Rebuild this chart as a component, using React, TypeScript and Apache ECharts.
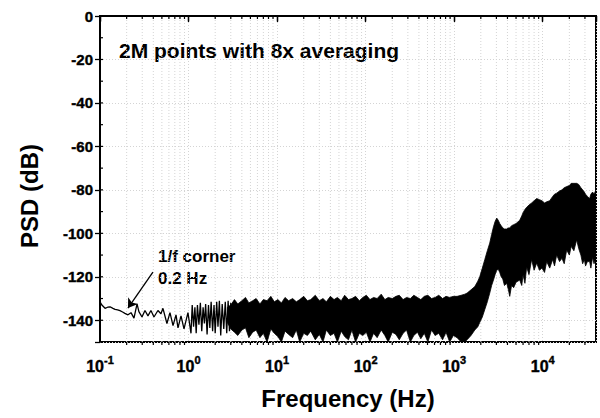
import React, { useEffect, useRef } from 'react';
import * as echarts from 'echarts';

// Low-frequency part of the spectrum (single trace), Hz / dB
const lowFreqHz = [0.1, 0.105, 0.114, 0.122, 0.13, 0.14, 0.148, 0.158, 0.168, 0.18, 0.191, 0.207, 0.224, 0.242, 0.262, 0.275, 0.298, 0.322, 0.348, 0.376, 0.407, 0.451, 0.488, 0.514, 0.57, 0.617, 0.668, 0.722, 0.76, 0.822, 0.889, 0.985, 1.066,
  1.1, 1.14, 1.18, 1.22, 1.26, 1.31, 1.36, 1.41, 1.46, 1.51, 1.56, 1.62, 1.68, 1.74, 1.8, 1.87, 1.94, 2.0, 2.08, 2.15, 2.23, 2.31, 2.4, 2.5, 2.6, 2.7, 2.8, 2.9, 3.0];
const lowFreqDb = [-131.5, -133, -134.5, -134, -133.8, -134.5, -135, -135.2, -135.6, -136.2, -136.8, -137.5, -136.5, -139, -132.5, -136, -138.5, -135.5, -138, -135.5, -138.5, -135.5, -137, -134.5, -141.5, -136.5, -142.5, -137.5, -143.5, -138, -144, -136.5, -146,
  -133, -143, -134, -146, -133, -142, -132, -145, -134, -141.5, -132.5, -146.5, -133, -143.5, -131.5, -145, -133, -146, -131.5, -143, -131, -147, -132.5, -144, -131.5, -146, -131, -145, -132];

// Dense noisy band: frequency with upper / lower envelope (dB)
const bandHz = [
  2.75, 3.0, 3.3, 3.6, 4.0, 4.4, 4.8, 5.3, 5.8,
  6.4, 7.0, 7.7, 8.5, 9.3, 10.2, 11.2, 12.3, 13.5, 15,
  16.5, 18, 20, 22, 24, 27, 30, 33, 36, 40,
  44, 48, 53, 58, 64, 70, 77, 85, 93, 102,
  112, 123, 135, 150, 165, 180, 200, 220, 240, 265,
  290, 320, 350, 385, 420, 460, 505, 555, 610, 670,
  740, 810, 890, 980, 1080, 1200, 1320, 1400, 1550, 1710,
  1850, 1945, 2080, 2220, 2370, 2523, 2650, 2780, 2900, 3027,
  3150, 3273, 3400, 3540, 3700, 3927, 4100, 4245, 4450, 4700,
  5000, 5500, 5800, 6000, 6300, 6590, 7000, 7500, 8000, 8550,
  9200, 9800, 10500, 11090, 12000, 12970, 13600, 14380, 15500, 16500,
  17500, 18660, 20000, 21000, 22500, 24200, 25500, 27000, 28270, 29500,
  30500, 32000, 33900, 35000, 36640, 38000, 40000,
];
const bandHiDb = [
  -134, -133, -130.5, -132.5, -131, -129.5, -132, -131, -130,
  -132.5, -130.5, -131, -129, -131.5, -130.5, -132, -129.5, -131, -130,
  -131.5, -130.5, -129, -131, -130.5, -128.5, -131, -130, -131.5, -129,
  -130.5, -129.5, -131, -128.5, -130.5, -130, -129, -131, -129.5, -128.5,
  -130.5, -129.5, -130, -128, -130.5, -129.5, -130, -129, -128.5, -130.5,
  -129.5, -130, -128.5, -129.5, -130.5, -129, -128.5, -130, -129.5, -128.5,
  -130, -129, -129.5, -129, -129, -128.5, -128, -127.5, -126, -124.5,
  -122, -120, -116, -112, -108, -104.5, -100.5, -97, -94.5, -93,
  -94, -95.5, -96.5, -97.5, -98, -98, -97.5, -97.5, -96.5, -96,
  -95.5, -94, -92, -90.5, -89, -88, -87, -86, -85, -84,
  -84.5, -85, -86, -85.5, -85, -83, -82, -81.5, -80.5, -80,
  -79, -78.5, -78, -77, -77, -77, -77.5, -79, -80, -81,
  -82, -83, -84, -82, -81, -82, -80,
];
const bandLoDb = [
  -141, -144, -145.5, -147, -144.5, -143.5, -148, -145.5, -144.5,
  -148, -146, -150, -144, -146, -147.5, -150, -145, -146.5, -148,
  -144.5, -150, -146, -147, -145, -149, -146.5, -150, -144.5, -147,
  -146, -150, -145, -147.5, -149, -144.5, -150, -146, -147, -145.5,
  -150, -146, -148, -144.5, -147, -150, -145.5, -146.5, -149, -146,
  -144.5, -150, -147, -145.5, -148.5, -146, -150, -144.5, -147, -146,
  -149, -145.5, -150, -147, -148, -150, -150, -149, -147, -144.5,
  -143, -141, -138.5, -135, -131.5, -127.5, -124, -121.5, -119, -117,
  -116.5, -118, -120, -121, -124, -123, -126, -129, -124, -125,
  -122.5, -121.5, -124, -119, -123, -115.5, -119, -112, -117, -113.7,
  -117, -116, -118, -113, -116, -112, -115, -110, -113, -111.5,
  -114, -107.7, -110, -106, -108, -103, -107, -110, -114, -112,
  -115, -113, -113, -116, -111, -114, -111,
];

// Tick labels
const xTickExponents = [-1, 0, 1, 2, 3, 4];
const yTickLabels = [-140, -120, -100, -80, -60, -40, -20, 0];

// Axis decorations
const xMinorHz = [0.2, 0.3, 0.4, 0.5, 0.6, 0.7, 0.8, 0.9, 2, 3, 4, 5, 6, 7, 8, 9, 20, 30, 40, 50, 60, 70, 80, 90, 200, 300, 400, 500, 600, 700, 800, 900, 2000, 3000, 4000, 5000, 6000, 7000, 8000, 9000, 20000, 30000];
const yInnerTicks = [-140, -130, -120, -110, -100, -90, -80, -70, -60, -50, -40, -30, -20, -10];

// Annotation arrow (Hz, dB)
const arrowFrom = [0.396, -117.8];
const arrowTo = [0.207, -134.4];

const FONT = 'Liberation Sans, Arial, Helvetica, sans-serif';

function txt(text: string, x: number, y: number, size: number, align: string, vAlign: string) {
  return {
    type: 'text', x, y,
    style: {
      text, fill: '#000', fontSize: size, fontWeight: 'bold', fontFamily: FONT,
      textAlign: align, textVerticalAlign: vAlign, align, verticalAlign: vAlign,
      stroke: '#000', lineWidth: 0.4,
    },
  };
}

export default function App() {
  const ref = useRef<HTMLDivElement>(null);
  useEffect(() => {
    document.body.style.margin = '0';
    const chart = echarts.init(ref.current as HTMLDivElement, null, { renderer: 'svg', width: 600, height: 418 });
    const ctx = document.createElement('canvas').getContext('2d') as CanvasRenderingContext2D;
    const measure = (t: string, size: number) => { ctx.font = `bold ${size}px ${FONT}`; return ctx.measureText(t).width; };
    const lowData = lowFreqHz.map((f, i) => [f, lowFreqDb[i]]);
    const bandData = bandHz.map((f, i) => [f, bandLoDb[i], bandHiDb[i]]);
    const X_MIN = 0.1;
    const X_MAX = 40000;
    const Y_MIN = -150;
    const Y_MAX = 0;
    const gridLine = { color: '#d4d4d4', width: 1, type: [1, 2] as any };

    const option: any = {
      animation: false,
      grid: { left: 100, right: 4, top: 16, bottom: 76, show: true, borderColor: '#000', borderWidth: 2, backgroundColor: 'transparent' },
      xAxis: [
        {
          type: 'log', logBase: 10, min: X_MIN, max: X_MAX, position: 'bottom',
          name: 'Frequency (Hz)', nameLocation: 'middle', nameGap: 44,
          nameTextStyle: { fontSize: 24, fontWeight: 'bold', fontFamily: FONT, color: '#000' },
          axisLine: { show: true, lineStyle: { color: '#000', width: 2 } },
          axisTick: { show: true, inside: false, length: 5, lineStyle: { color: '#000', width: 1.3 } },
          minorTick: { show: false },
          splitLine: { show: true, lineStyle: gridLine },
          axisLabel: { show: false },
        },
        {
          type: 'log', logBase: 10, min: X_MIN, max: X_MAX, position: 'top',
          axisLine: { show: true, lineStyle: { color: '#000', width: 2 } },
          axisTick: { show: true, inside: true, length: 6, lineStyle: { color: '#000', width: 1.3 } },
          axisLabel: { show: false },
          splitLine: { show: false },
        },
      ],
      yAxis: [
        {
          type: 'value', min: Y_MIN, max: Y_MAX, splitNumber: 8, minInterval: 20, maxInterval: 20,
          axisLine: { show: true, lineStyle: { color: '#000', width: 2 } },
          axisTick: { show: true, inside: false, length: 5, lineStyle: { color: '#000', width: 1.3 } },
          splitLine: { show: true, lineStyle: gridLine },
          axisLabel: { show: false },
        },
      ],
      graphic: [
        { type: 'text', x: 29, y: 196, rotation: Math.PI / 2, style: { text: 'PSD (dB)', fontSize: 24, fontWeight: 'bold', fontFamily: FONT, fill: '#000', textAlign: 'center', textVerticalAlign: 'middle', align: 'center', verticalAlign: 'middle' } },
        { type: 'text', x: 119, y: 50, style: { text: '2M points with 8x averaging', fontSize: 21, fontWeight: 'bold', fontFamily: FONT, fill: '#000', textAlign: 'left', textVerticalAlign: 'middle', align: 'left', verticalAlign: 'middle' } },
        { type: 'text', x: 158, y: 256, style: { text: '1/f corner', fontSize: 17, fontWeight: 'bold', fontFamily: FONT, fill: '#000', textAlign: 'left', textVerticalAlign: 'middle', align: 'left', verticalAlign: 'middle' } },
        { type: 'text', x: 158, y: 278, style: { text: '0.2 Hz', fontSize: 17, fontWeight: 'bold', fontFamily: FONT, fill: '#000', textAlign: 'left', textVerticalAlign: 'middle', align: 'left', verticalAlign: 'middle' } },
      ],
      series: [
        {
          type: 'custom', name: 'minorGrid', xAxisIndex: 0, yAxisIndex: 0, z: 0, silent: true,
          data: xMinorHz.map((v) => [v, Y_MIN]),
          renderItem: (params: any, api: any) => {
            const v = api.value(0);
            const b = api.coord([v, Y_MIN]);
            const t = api.coord([v, Y_MAX]);
            return { type: 'line', shape: { x1: b[0], y1: b[1], x2: t[0], y2: t[1] }, style: { stroke: '#d4d4d4', lineWidth: 1, lineDash: [1, 2] } };
          },
        },
        {
          type: 'custom', name: 'band', xAxisIndex: 0, yAxisIndex: 0, z: 3, silent: true, clip: true,
          data: bandData,
          encode: { x: 0, y: [1, 2] },
          renderItem: (params: any, api: any) => {
            if (params.dataIndex !== 0) return null;
            const top = bandHz.map((f, i) => api.coord([f, bandHiDb[i]]));
            const bot = bandHz.map((f, i) => api.coord([f, bandLoDb[i]])).reverse();
            return { type: 'polygon', shape: { points: top.concat(bot) }, style: { fill: '#000', stroke: '#000', lineWidth: 0.8 } };
          },
        },
        {
          type: 'line', name: 'PSD', xAxisIndex: 0, yAxisIndex: 0, z: 4, silent: true,
          data: lowData, symbol: 'none', showSymbol: false,
          lineStyle: { color: '#000', width: 1.3 },
          markLine: {
            silent: true, symbol: ['none', 'arrow'], symbolSize: 9,
            label: { show: false },
            lineStyle: { color: '#000', width: 1.3, type: 'solid' },
            data: [[{ coord: arrowFrom }, { coord: arrowTo }]],
          },
        },
        {
          type: 'custom', name: 'minorTicks', xAxisIndex: 0, yAxisIndex: 0, z: 10, silent: true, clip: false,
          data: xMinorHz.map((v) => [v, Y_MIN]),
          renderItem: (params: any, api: any) => {
            const v = api.value(0);
            const b = api.coord([v, Y_MIN]);
            const t = api.coord([v, Y_MAX]);
            const st = { stroke: '#000', lineWidth: 1.2 };
            return {
              type: 'group',
              children: [
                { type: 'line', shape: { x1: b[0], y1: b[1], x2: b[0], y2: b[1] + 3 }, style: st },
                { type: 'line', shape: { x1: t[0], y1: t[1], x2: t[0], y2: t[1] + 3 }, style: st },
              ],
            };
          },
        },
        {
          type: 'custom', name: 'yInnerTicks', xAxisIndex: 0, yAxisIndex: 0, z: 10, silent: true, clip: false,
          data: yInnerTicks.map((v) => [X_MIN, v]),
          renderItem: (params: any, api: any) => {
            const p = api.coord([X_MIN, api.value(1)]);
            return { type: 'line', shape: { x1: p[0], y1: p[1], x2: p[0] + 3, y2: p[1] }, style: { stroke: '#000', lineWidth: 1.2 } };
          },
        },
        {
          type: 'custom', name: 'xLabels', xAxisIndex: 0, yAxisIndex: 0, z: 10, silent: true, clip: false,
          data: xTickExponents.map((e) => [Math.pow(10, e), Y_MIN]),
          renderItem: (params: any, api: any) => {
            const e = xTickExponents[params.dataIndex];
            const p = api.coord([api.value(0), Y_MIN]);
            const sup = String(e);
            const wB = measure('10', 16);
            const wS = measure(sup, 11);
            const left = p[0] - (wB + wS) / 2;
            return {
              type: 'group',
              children: [
                txt('10', left, p[1] + 24, 16, 'left', 'middle'),
                txt(sup, left + wB, p[1] + 18, 11, 'left', 'middle'),
              ],
            };
          },
        },
        {
          type: 'custom', name: 'yLabels', xAxisIndex: 0, yAxisIndex: 0, z: 10, silent: true, clip: false,
          data: yTickLabels.map((v) => [X_MIN, v]),
          renderItem: (params: any, api: any) => {
            const v = api.value(1);
            const p = api.coord([X_MIN, v]);
            return txt(String(v), p[0] - 7, p[1], 15, 'right', 'middle');
          },
        },
      ],
    };
    chart.setOption(option);
    return () => chart.dispose();
  }, []);
  return <div ref={ref} style={{ width: 600, height: 418 }} />;
}
